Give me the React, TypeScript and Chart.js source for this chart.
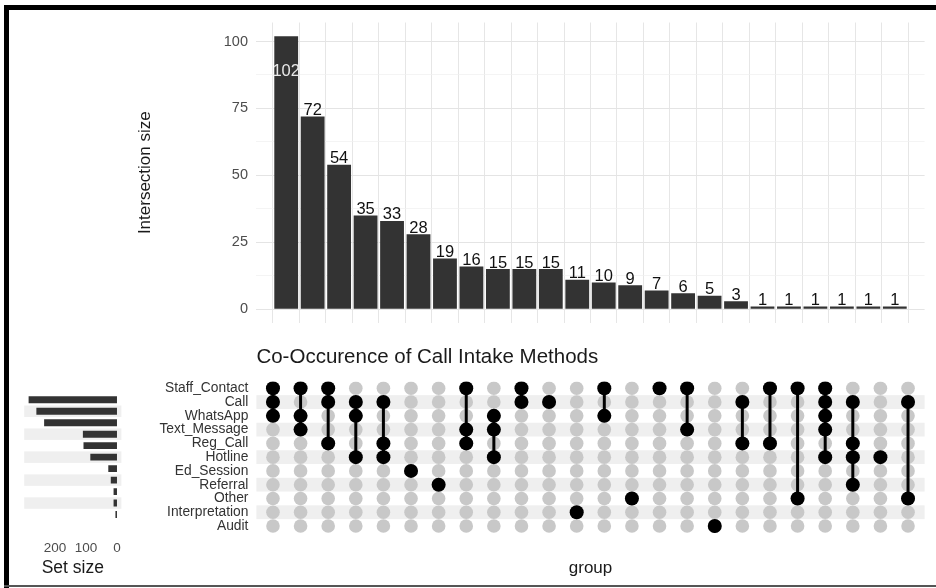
import React, { useEffect, useRef } from "react";
import { Chart, registerables } from "chart.js";

Chart.register(...registerables);

const FONT = "'Liberation Sans', Arial, Helvetica, sans-serif";

// ---- data ----
const setNames = [
  "Staff_Contact",
  "Call",
  "WhatsApp",
  "Text_Message",
  "Reg_Call",
  "Hotline",
  "Ed_Session",
  "Referral",
  "Other",
  "Interpretation",
  "Audit",
];
const setSizes = [285, 260, 235, 110, 108, 86, 28, 20, 11, 11, 5];
const intersectionSizes = [102, 72, 54, 35, 33, 28, 19, 16, 15, 15, 15, 11, 10, 9, 7, 6, 5, 3, 1, 1, 1, 1, 1, 1];
// indices into setNames for each intersection column
const intersectionMembers: number[][] = [
  [0, 1, 2],
  [0, 2, 3],
  [0, 1, 4],
  [1, 2, 5],
  [1, 4, 5],
  [6],
  [7],
  [0, 3, 4],
  [2, 3, 5],
  [0, 1],
  [1],
  [9],
  [0, 2],
  [8],
  [0],
  [0, 3],
  [10],
  [1, 4],
  [0, 4],
  [0, 8],
  [0, 1, 2, 3, 5],
  [1, 4, 5, 7],
  [5],
  [1, 8],
];
const intersectionTickLabels = [0, 25, 50, 75, 100];
const setSizeTicks = [0, 100, 200];

const stripePlugin = {
  id: "stripes",
  beforeDatasetsDraw(chart: any) {
    const { ctx, chartArea } = chart;
    const ys = chart.scales.y;
    ctx.save();
    ctx.fillStyle = "#efefef";
    setNames.forEach((_, i) => {
      if (i % 2 === 1) {
        const a = ys.getPixelForValue(i - 0.5);
        const b = ys.getPixelForValue(i + 0.5);
        ctx.fillRect(chartArea.left, Math.min(a, b), chartArea.right - chartArea.left, Math.abs(b - a));
      }
    });
    ctx.restore();
  },
};

const barLabelPlugin = {
  id: "barLabels",
  afterDatasetsDraw(chart: any) {
    const ctx = chart.ctx;
    const meta = chart.getDatasetMeta(0);
    ctx.save();
    ctx.font = `16.5px ${FONT}`;
    ctx.textAlign = "center";
    ctx.textBaseline = "alphabetic";
    meta.data.forEach((el: any, i: number) => {
      const v = intersectionSizes[i];
      const { x, y } = el.getProps(["x", "y"], true);
      if (y - 18 < chart.chartArea.top) {
        ctx.fillStyle = "#e8e8e8";
        ctx.fillText(String(v), x, y + 40);
      } else {
        ctx.fillStyle = "#111111";
        ctx.fillText(String(v), x, y - 1.5);
      }
    });
    ctx.restore();
  },
};

export default function App() {
  const topRef = useRef<HTMLCanvasElement>(null);
  const matRef = useRef<HTMLCanvasElement>(null);
  const setRef = useRef<HTMLCanvasElement>(null);

  useEffect(() => {
    const charts: Chart[] = [];

    // ---- intersection size bars ----
    charts.push(
      new Chart(topRef.current as HTMLCanvasElement, {
        type: "bar",
        data: {
          datasets: [
            {
              data: intersectionSizes.map((v, i) => ({ x: i, y: v })),
              backgroundColor: "#333333",
              barPercentage: 0.9,
              categoryPercentage: 1,
            },
          ],
        },
        options: {
          animation: false,
          responsive: false,
          maintainAspectRatio: false,
          layout: { padding: { left: 130.8, right: 11.4, top: 22.5, bottom: 10 } },
          plugins: { legend: { display: false }, tooltip: { enabled: false } },
          scales: {
            x: {
              type: "linear",
              min: -0.6,
              max: 23.6,
              afterBuildTicks: (s: any) => {
                s.ticks = intersectionSizes.map((_, i) => ({ value: i }));
              },
              ticks: { display: false },
              grid: { color: "#e6e6e6", lineWidth: 1, drawTicks: false },
              border: { display: false },
              afterFit: (s: any) => {
                s.height = 0;
              },
            },
            y: {
              type: "linear",
              min: -5.1,
              max: 107.1,
              afterBuildTicks: (s: any) => {
                const t: any[] = [];
                for (let v = 0; v <= 100; v += 12.5) t.push({ value: v });
                s.ticks = t;
              },
              ticks: {
                callback: (v: any) => (intersectionTickLabels.includes(v) ? String(v) : ""),
                font: { size: 14.5, family: FONT },
                color: "#4d4d4d",
                padding: 8.4,
                autoSkip: false,
              },
              grid: {
                color: (c: any) => (c.tick && c.tick.value % 25 === 0 ? "#e4e4e4" : "#efefef"),
                lineWidth: (c: any) => (c.tick && c.tick.value % 25 === 0 ? 1 : 0.7),
                drawTicks: false,
              },
              border: { display: false },
              title: {
                display: true,
                text: "Intersection size",
                font: { size: 17, family: FONT },
                color: "#1a1a1a",
                padding: { top: 4, bottom: 4 },
              },
              afterFit: (s: any) => {
                s.width = 125.6;
              },
            },
          },
        },
        plugins: [barLabelPlugin],
      })
    );

    // ---- matrix ----
    const grayPts: { x: number; y: number }[] = [];
    intersectionSizes.forEach((_, c) => setNames.forEach((__, r) => grayPts.push({ x: c, y: r })));
    const blackPts: { x: number; y: number }[] = [];
    intersectionMembers.forEach((m, c) => m.forEach((r) => blackPts.push({ x: c, y: r })));
    const lineSets: any[] = intersectionMembers
      .map((m, c) => ({ m, c }))
      .filter(({ m }) => m.length > 1)
      .map(({ m, c }) => ({
        data: [
          { x: c, y: Math.min(...m) },
          { x: c, y: Math.max(...m) },
        ],
        showLine: true,
        borderColor: "#000000",
        borderWidth: 3,
        pointRadius: 0,
        order: 1,
      }));

    charts.push(
      new Chart(matRef.current as HTMLCanvasElement, {
        type: "scatter",
        data: {
          datasets: [
            { data: blackPts, backgroundColor: "#000000", borderWidth: 0, pointRadius: 7, order: 0 } as any,
            ...lineSets,
            { data: grayPts, backgroundColor: "#c8c8c8", borderWidth: 0, pointRadius: 6.8, order: 2 } as any,
          ],
        },
        options: {
          animation: false,
          responsive: false,
          maintainAspectRatio: false,
          layout: { padding: { left: 140, right: 11.4, top: 0, bottom: 5.8 } },
          plugins: {
            legend: { display: false },
            tooltip: { enabled: false },
            title: {
              display: true,
              text: "Co-Occurence of Call Intake Methods",
              align: "start",
              fullSize: false,
              font: { size: 20.5, family: FONT, weight: "normal" },
              color: "#1a1a1a",
              padding: { top: 9.7, bottom: 12.1 },
            },
          },
          scales: {
            x: {
              type: "linear",
              min: -0.6,
              max: 23.6,
              ticks: { display: false },
              grid: { display: false, drawTicks: false },
              border: { display: false },
              title: {
                display: true,
                text: "group",
                font: { size: 17, family: FONT },
                color: "#1a1a1a",
                padding: { top: 4, bottom: 4 },
              },
              afterFit: (s: any) => {
                s.height = 49.3;
              },
            },
            y: {
              type: "linear",
              reverse: true,
              min: -0.5,
              max: 10.5,
              afterBuildTicks: (s: any) => {
                s.ticks = setNames.map((_, i) => ({ value: i }));
              },
              ticks: {
                callback: (_v: any, i: number) => setNames[i],
                font: { size: 13.8, family: FONT },
                color: "#333333",
                padding: 8,
                autoSkip: false,
              },
              grid: { display: false, drawTicks: false },
              border: { display: false },
              afterFit: (s: any) => {
                s.width = 116.4;
              },
            },
          },
        },
        plugins: [stripePlugin],
      })
    );

    // ---- set size ----
    charts.push(
      new Chart(setRef.current as HTMLCanvasElement, {
        type: "bar",
        data: {
          datasets: [
            {
              data: setSizes.map((v, i) => ({ x: v, y: i })),
              backgroundColor: "#333333",
              barPercentage: 0.6,
              categoryPercentage: 1,
            },
          ],
        },
        options: {
          indexAxis: "y",
          animation: false,
          responsive: false,
          maintainAspectRatio: false,
          layout: { padding: { left: 24.2, right: 18.6, top: 46.4, bottom: 5.8 } },
          plugins: { legend: { display: false }, tooltip: { enabled: false } },
          scales: {
            x: {
              type: "linear",
              reverse: true,
              min: -14.25,
              max: 299.25,
              afterBuildTicks: (s: any) => {
                s.ticks = setSizeTicks.map((v) => ({ value: v }));
              },
              ticks: {
                font: { size: 13.5, family: FONT },
                color: "#4d4d4d",
                padding: 7,
                maxRotation: 0,
                autoSkip: false,
              },
              grid: { display: false, drawTicks: false },
              border: { display: false },
              title: {
                display: true,
                text: "Set size",
                font: { size: 17.5, family: FONT },
                color: "#1a1a1a",
                padding: { top: 4, bottom: 4 },
              },
              afterFit: (s: any) => {
                s.height = 49.3;
              },
            },
            y: {
              type: "linear",
              reverse: true,
              min: -0.5,
              max: 10.5,
              display: false,
            },
          },
        },
        plugins: [stripePlugin],
      })
    );

    return () => charts.forEach((c) => c.destroy());
  }, []);

  return (
    <div
      style={{
        position: "fixed",
        left: 0,
        top: 0,
        width: 936,
        height: 588,
        background: "#ffffff",
        overflow: "hidden",
      }}
    >
      <canvas ref={topRef} width={936} height={340} style={{ position: "absolute", left: 0, top: 0, width: 936, height: 340 }} />
      <canvas ref={matRef} width={936} height={253} style={{ position: "absolute", left: 0, top: 335, width: 936, height: 253 }} />
      <canvas ref={setRef} width={140} height={253} style={{ position: "absolute", left: 0, top: 335, width: 140, height: 253 }} />
      <div style={{ position: "absolute", left: 4, top: 5, width: 932, height: 5, background: "#000" }} />
      <div style={{ position: "absolute", left: 4, top: 5, width: 5, height: 583, background: "#000" }} />
      <div style={{ position: "absolute", left: 4, top: 585, width: 932, height: 2, background: "#555" }} />
    </div>
  );
}
